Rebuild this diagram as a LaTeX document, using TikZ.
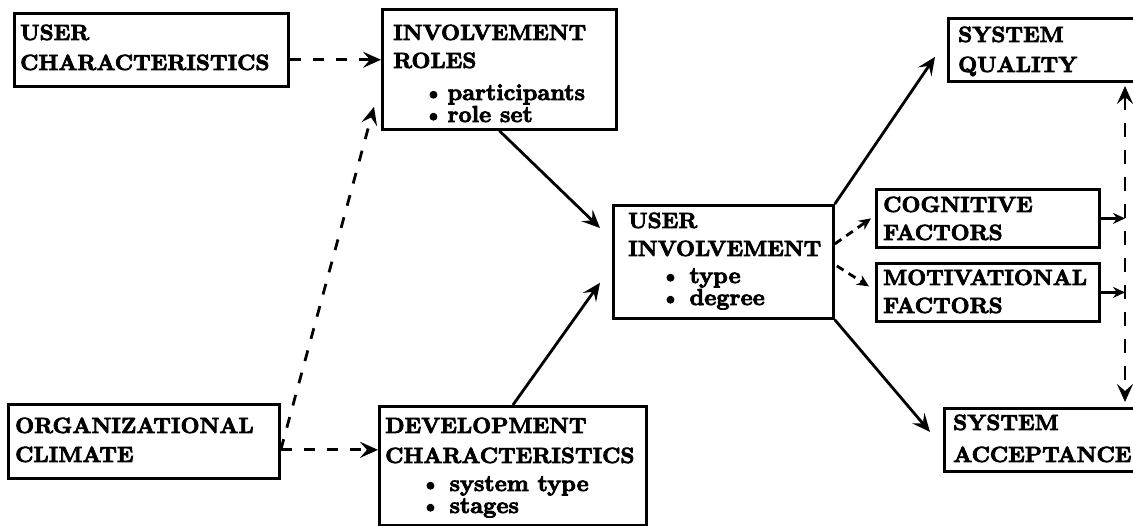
\documentclass[tikz,border=0pt]{standalone}
\usepackage{fontspec}
\usetikzlibrary{arrows.meta,calc}
\newfontfamily\heavyfont{lmroman10-bold}[Extension=.otf, FakeBold=3.5]
\newcommand\myhdfont{\heavyfont\fontsize{22}{28}\selectfont}
\newcommand\myitemfont{\heavyfont\fontsize{23}{28}\selectfont}
\newcommand\myitem[1]{\hspace*{#1}\myitemfont\textbullet}
\tikzset{
  box/.style={draw, line width=2.8pt, anchor=north west, inner sep=0pt},
  lbl/.style={anchor=base west, inner sep=0pt, font=\myhdfont},
  bigtip/.tip={Stealth[length=18pt,width=16pt,inset=7pt]},
  smalltip/.tip={Stealth[length=12pt,width=11pt,inset=4pt]},
  solidarrow/.style={line width=2.8pt, -bigtip},
  dasharrow/.style={line width=2.8pt, dash pattern=on 11pt off 12pt, -bigtip},
}
\begin{document}
\begin{tikzpicture}[x=1pt,y=-1pt]
\useasboundingbox (0,0) rectangle (1133,526);
\clip (0,0) rectangle (1133,526);

% boxes
\node[box, minimum width=274pt, minimum height=73pt]  (uc) at (13,12)  {};
\node[box, minimum width=234pt, minimum height=120pt] (ir) at (381,8)  {};
\node[box, minimum width=220pt, minimum height=113pt] (ui) at (612,204) {};
\node[box, minimum width=271pt, minimum height=74pt]  (oc) at (7,403)  {};
\node[box, minimum width=267pt, minimum height=119pt] (dc) at (378,405) {};
\node[box, minimum width=200pt, minimum height=63pt]  (sq) at (947,17) {};
\node[box, minimum width=223pt, minimum height=58pt]  (cf) at (875,188) {};
\node[box, minimum width=223pt, minimum height=58pt]  (mf) at (875,262) {};
\node[box, minimum width=204pt, minimum height=63pt]  (sa) at (943,407) {};

% texts
\node[lbl] (uct) at (20,40) {\begin{tabular}[t]{@{}l@{}}USER\\[2pt]CHARACTERISTICS\end{tabular}};
\node[lbl] (irt) at (393,40) {\begin{tabular}[t]{@{}l@{}}INVOLVEMENT\\ROLES\\[4pt]\myitem{30pt}\,participants\\[-6pt]\myitem{30pt}\,role set\end{tabular}};
\node[lbl] (uit) at (628,228) {\begin{tabular}[t]{@{}l@{}}USER\\INVOLVEMENT\\[-1pt]\myitem{32pt}\ type\\[-6pt]\myitem{32pt}\ degree\end{tabular}};
\node[lbl] (oct) at (15,433) {\begin{tabular}[t]{@{}l@{}}ORGANIZATIONAL\\[1pt]CLIMATE\end{tabular}};
\node[lbl] (dct) at (385,433) {\begin{tabular}[t]{@{}l@{}}DEVELOPMENT\\[2pt]CHARACTERISTICS\\[0pt]\myitem{35pt}\ system type\\[-6pt]\myitem{35pt}\ stages\end{tabular}};
\node[lbl] (sqt) at (958,42) {\begin{tabular}[t]{@{}l@{}}SYSTEM\\[2pt]QUALITY\end{tabular}};
\node[lbl] (cft) at (883,212) {\begin{tabular}[t]{@{}l@{}}COGNITIVE\\FACTORS\end{tabular}};
\node[lbl] (mft) at (883,285) {\begin{tabular}[t]{@{}l@{}}MOTIVATIONAL\\FACTORS\end{tabular}};
\node[lbl] (sat) at (953,430) {\begin{tabular}[t]{@{}l@{}}SYSTEM\\[4pt]ACCEPTANCE\end{tabular}};

% connectors
\coordinate (ucA) at ($(uc.north east)!0.63!(uc.south east)$);
\coordinate (ocA) at ($(oc.north east)!0.61!(oc.south east)$);
\coordinate (vt) at (1125,86);
\coordinate (vb) at (1125,402);

\draw[dasharrow] (ucA) -- (ucA -| ir.west);
\draw[dasharrow] (ocA) -- (ocA -| dc.west);
\draw[dasharrow] (ocA) -- ([shift={(-7,-24)}]ir.south west);

\draw[solidarrow] (ir.south) -- ([shift={(-12,24)}]ui.north west);
\draw[solidarrow] (dc.north) -- ([shift={(-12,-37)}]ui.south west);
\draw[solidarrow] (ui.north east) -- ([shift={(-12,7)}]sq.west);
\draw[solidarrow] (ui.south east) -- ([shift={(-13,-8)}]sa.west);

\draw[dasharrow, dash pattern=on 8pt off 6pt, -smalltip] ([shift={(0,-18)}]ui.east) -- ([shift={(-4,0)}]cf.west);
\draw[dasharrow, dash pattern=on 8pt off 6pt, -smalltip] ([shift={(2,4)}]ui.east) -- ([shift={(-6,-6)}]mf.west);

\draw[line width=2.8pt, dash pattern=on 14pt off 13pt, bigtip-bigtip] (vt) -- (vb);
\draw[line width=2.8pt, -smalltip] (cf.east) -- (cf.east -| vt);
\draw[line width=2.8pt, -smalltip] (mf.east) -- (mf.east -| vt);
\end{tikzpicture}
\end{document}
